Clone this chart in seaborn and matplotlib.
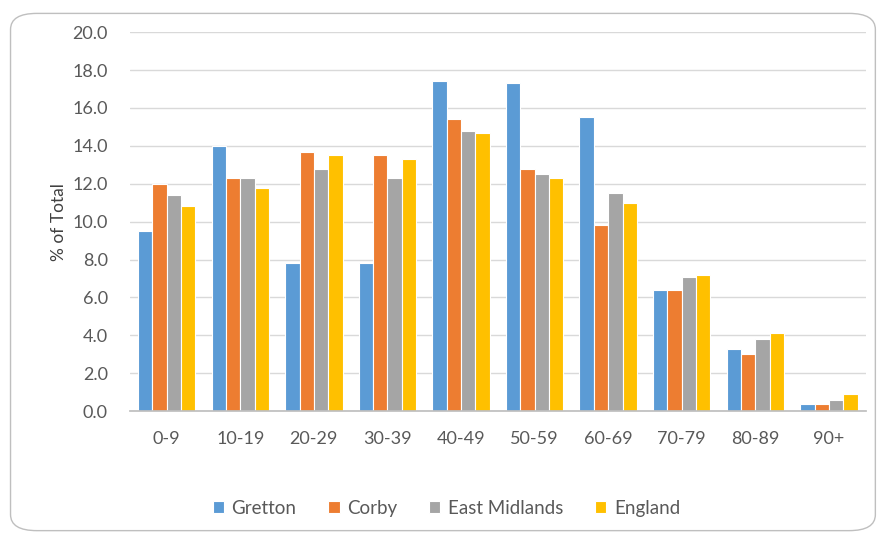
import pandas as pd
import seaborn as sns
import matplotlib.pyplot as plt
from matplotlib.patches import FancyBboxPatch

# age bands and % of total population per area
age_bands = ["0-9", "10-19", "20-29", "30-39", "40-49", "50-59", "60-69", "70-79", "80-89", "90+"]
gretton = [9.5, 14.0, 7.8, 7.8, 17.4, 17.3, 15.5, 6.4, 3.3, 0.4]
corby = [12.0, 12.3, 13.7, 13.5, 15.4, 12.8, 9.8, 6.4, 3.0, 0.4]
east_midlands = [11.4, 12.3, 12.8, 12.3, 14.8, 12.5, 11.5, 7.1, 3.8, 0.6]
england = [10.8, 11.8, 13.5, 13.3, 14.7, 12.3, 11.0, 7.2, 4.1, 0.9]

areas = ["Gretton", "Corby", "East Midlands", "England"]
colors = ["#5B9BD5", "#ED7D31", "#A5A5A5", "#FFC000"]

if __name__ == "__main__":
    df = pd.DataFrame({
        "Age": age_bands * 4,
        "Area": sum([[a] * len(age_bands) for a in areas], []),
        "Pct": gretton + corby + east_midlands + england,
    })

    sns.set_theme(style="white")
    plt.rcParams["font.family"] = ["Lato", "DejaVu Sans"]

    fig = plt.figure(figsize=(8.78, 5.36), dpi=100)
    ax = fig.add_axes([0.148, 0.233, 0.838, 0.707])

    # rounded chart border like the Excel frame
    frame = FancyBboxPatch((0.012, 0.01), 0.985, 0.965, boxstyle="round,pad=0,rounding_size=0.03",
                           transform=fig.transFigure, facecolor="white", edgecolor="#BFBFBF",
                           linewidth=1.0, zorder=-10)
    fig.patches.append(frame)

    sns.barplot(data=df, x="Age", y="Pct", hue="Area", hue_order=areas,
                palette=colors, width=0.78, edgecolor="white", linewidth=0.8,
                saturation=1, ax=ax)

    ax.set_ylim(0, 20)
    ax.set_yticks([i * 2 for i in range(11)])
    ax.set_yticklabels([f"{i * 2:.1f}" for i in range(11)])
    ax.yaxis.grid(True, color="#D9D9D9", linewidth=1)
    ax.set_axisbelow(True)
    for s in ["top", "right", "left"]:
        ax.spines[s].set_visible(False)
    ax.spines["bottom"].set_color("#BFBFBF")
    ax.tick_params(axis="both", length=0, colors="#595959", labelsize=13)
    ax.tick_params(axis="y", pad=16)
    ax.tick_params(axis="x", pad=14)
    ax.set_xlabel("")
    ax.set_ylabel("% of Total", color="#404040", fontsize=12.5, labelpad=4)
    ax.set_facecolor("none")

    ax.legend(loc="upper center", bbox_to_anchor=(0.43, -0.19), ncol=4, frameon=False,
              fontsize=13.5, handlelength=0.6, handleheight=0.6, handletextpad=0.4,
              columnspacing=1.7, labelcolor="#595959")

    plt.savefig("out.png", dpi=100)
